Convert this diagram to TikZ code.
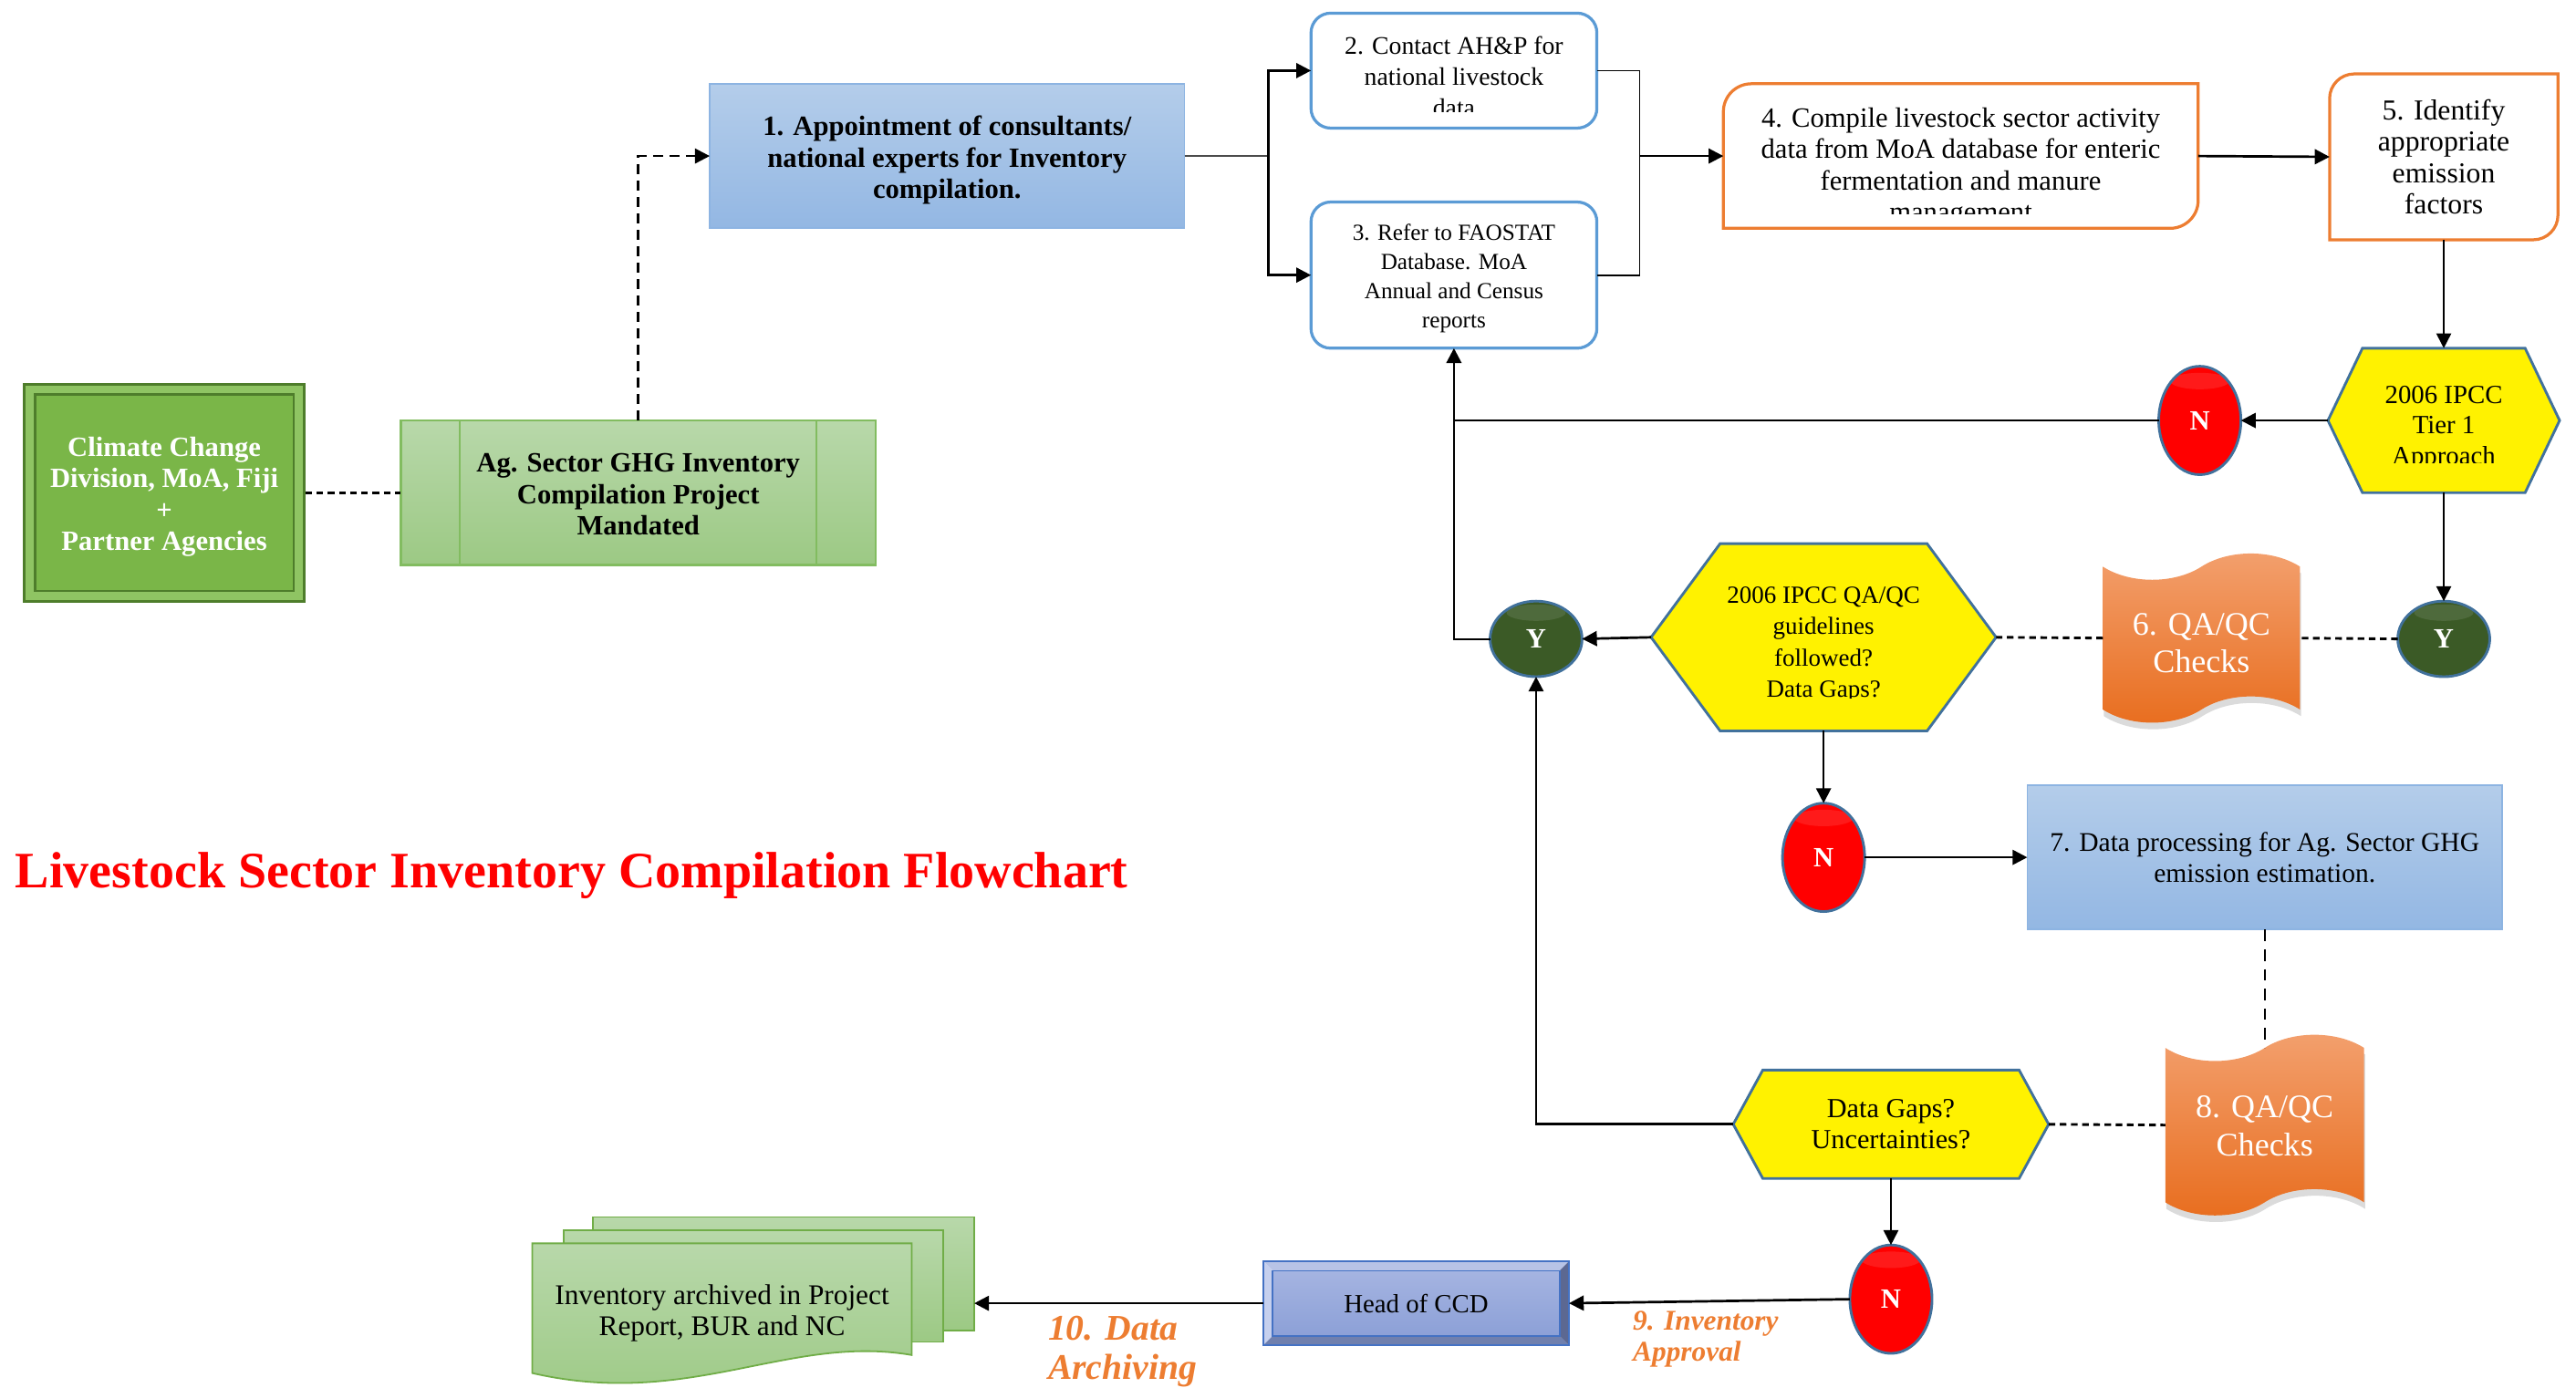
\documentclass[tikz,border=0pt]{standalone}
\usepackage{fontspec}
\setmainfont{Liberation Serif}
\usetikzlibrary{arrows.meta,shapes.geometric,shapes.symbols,shadows}
\pgfdeclarelayer{bg}
\pgfsetlayers{bg,main}

\definecolor{titlered}{HTML}{FF0000}
\definecolor{ccdfill}{HTML}{7AB648}
\definecolor{ccdedge}{HTML}{4E7D2B}
\definecolor{ccdband}{HTML}{8FC463}
\definecolor{agtop}{HTML}{B8D8AA}
\definecolor{agbot}{HTML}{9CC984}
\definecolor{agedge}{HTML}{82BC60}
\definecolor{bluetop}{HTML}{B4CDEA}
\definecolor{bluebot}{HTML}{93B7E3}
\definecolor{blueedge}{HTML}{8DB4E2}
\definecolor{rbedge}{HTML}{5B9BD5}
\definecolor{orangeedge}{HTML}{ED7D31}
\definecolor{hexedge}{HTML}{41719C}
\definecolor{tapetop}{HTML}{F3A06E}
\definecolor{tapebot}{HTML}{E86D1E}
\definecolor{labelorange}{HTML}{ED7D31}
\definecolor{yesgreen}{HTML}{3B5A26}
\definecolor{bevtop}{HTML}{B7C3E6}
\definecolor{bevleft}{HTML}{C6D0EE}
\definecolor{bevbot}{HTML}{7080AE}
\definecolor{bevright}{HTML}{5C6892}
\definecolor{facetop}{HTML}{A5B4E1}
\definecolor{facebot}{HTML}{8CA0D7}
\definecolor{headedge}{HTML}{4472C4}
\definecolor{sheetedge}{HTML}{70AD47}

\newcommand\fsz[2]{\fontsize{#1}{#2}\selectfont}

% yellow decision hexagon around a named node
\newcommand\hexshape[2]{%
  \path[hexfill] (#1.west) -- ([xshift=#2]#1.north west) -- ([xshift=-#2]#1.north east)
    -- (#1.east) -- ([xshift=-#2]#1.south east) -- ([xshift=#2]#1.south west) -- cycle;}
% box with rounded top-left and bottom-right corners
\newcommand\diagbox[2]{%
  \path[fill=white, draw=orangeedge, line width=0.9pt]
    (#1.west) [rounded corners=#2] -- (#1.north west) -- (#1.north)
    [sharp corners] -- (#1.north east) -- (#1.east)
    [rounded corners=#2] -- (#1.south east) -- (#1.south)
    [sharp corners] -- (#1.south west) -- cycle;}

\tikzset{
  every node/.style={inner sep=0pt, outer sep=0pt, align=center},
  sz/.style 2 args={minimum width=#1, minimum height=#2},
  body/.style={font=\fsz{8.5}{9.5}},
  bodyb/.style={font=\bfseries\fsz{8.5}{9.5}},
  bluebox/.style={rectangle, top color=bluetop, bottom color=bluebot, draw=blueedge, line width=0.5pt},
  roundbox/.style={rectangle, rounded corners=6pt, fill=white, draw=rbedge, line width=0.9pt},
  hexfill/.style={fill=yellow, draw=hexedge, line width=0.8pt},
  nobox/.style={rectangle, draw=none},
  gloss/.style={path picture={\fill[white, opacity=0.1]
      ([yshift=-#1]path picture bounding box.north) ellipse [x radius=9pt, y radius=2.5pt];}},
  nodot/.style={ellipse, sz={25pt}{33pt}, fill=red, draw=hexedge, line width=0.8pt, gloss=4.5pt,
    text=white, font=\bfseries\fsz{8.5}{9.5}},
  yesdot/.style={ellipse, sz={28pt}{23pt}, fill=yesgreen, draw=hexedge, line width=0.8pt, gloss=3.5pt,
    text=white, font=\bfseries\fsz{8.5}{9.5}},
  tapebox/.style={tape, tape bend top=in and out, tape bend bottom=in and out,
    tape bend height=8pt, top color=tapetop, bottom color=tapebot, draw=none,
    drop shadow={shadow xshift=0.3pt, shadow yshift=-2pt, opacity=0.14, fill=black}},
  tapetext/.style={text=white, font=\fsz{10}{11.5}},
  sheet/.style={top color=agtop, bottom color=agbot, draw=sheetedge, line width=0.5pt},
  tip/.style={-{Triangle[length=4.5pt,width=4.5pt]}},
  conn/.style={line width=0.75pt, tip},
  thinconn/.style={line width=0.5pt, tip},
  dots/.style={line width=0.8pt, dash pattern=on 2pt off 1.4pt},
  orangelabel/.style={anchor=west, align=left, text=labelorange},
}

\begin{document}
\begin{tikzpicture}[x=0.5pt,y=-0.5pt]
\useasboundingbox (0,0) rectangle (1568,845);

% title
\node[text=titlered, font=\bfseries\fsz{15.55}{18}] (title) at (348,533)
  {Livestock Sector Inventory Compilation Flowchart};

% organisation and mandate
\node[sz={82pt}{63pt}, fill=ccdfill, draw=ccdedge, double=ccdband, double distance=2.4pt,
  line width=0.8pt, outer sep=2pt] (ccd) at (100,300) {};
\node[text=white, bodyb] (ccdt) at (100,302.5)
  {Climate Change\\Division, MoA, Fiji\\+\\Partner Agencies};
\node[sz={144.5pt}{44pt}, top color=agtop, bottom color=agbot, draw=agedge, line width=0.6pt]
  (ag) at (388.5,300) {};
\node[bodyb] (agt) at (388.5,301) {Ag. Sector GHG Inventory\\Compilation Project\\Mandated};
\draw[agedge, line width=0.6pt] ([xshift=18pt]ag.north west) -- ([xshift=18pt]ag.south west)
  ([xshift=-18pt]ag.north east) -- ([xshift=-18pt]ag.south east);

% steps 1-5
\node[sz={144.5pt}{44pt}, bluebox] (b1) at (576.5,95) {};
\node[bodyb] (b1t) at (576.5,97.5)
  {1. Appointment of consultants/\\national experts for Inventory\\compilation.};

\node[sz={87pt}{35pt}, roundbox] (b2) at (885,43) {};
\begin{scope}
  \clip ([shift={(1pt,-1pt)}]b2.north west) rectangle ([shift={(-1pt,5pt)}]b2.south east);
  \node[font=\fsz{7.7}{9.5}] (b2t) at (885,46.5) {2. Contact AH\&P for\\national livestock\\data};
\end{scope}

\node[sz={87pt}{44.5pt}, roundbox] (b3) at (885,167.5) {};
\node[font=\fsz{7}{8.8}] (b3t) at (885,169.5)
  {3. Refer to FAOSTAT\\Database. MoA\\Annual and Census\\reports};

\node[sz={144.5pt}{44pt}, nobox] (b4) at (1193.5,95) {};
\begin{scope}
  \clip ([yshift=-1pt]b4.north west) rectangle ([yshift=4.5pt]b4.south east);
  \node[body] (b4t) at (1193.5,102) {4. Compile livestock sector activity\\data from MoA database for enteric\\fermentation and manure\\management};
\end{scope}

\node[sz={69.5pt}{50.5pt}, nobox, font=\fsz{8.8}{9.5}] (b5) at (1487.5,95.5)
  {5. Identify\\appropriate\\emission\\factors};

% tier 1 decision
\node[sz={70.5pt}{44pt}, nobox] (h1) at (1487.5,256) {};
\begin{scope}
  \clip (h1.north west) rectangle ([yshift=9pt]h1.south east);
  \node[font=\fsz{8}{9.3}] (h1t) at (1487.5,260.5) {2006 IPCC\\Tier 1\\Approach};
\end{scope}
\node[nodot] (n1) at (1339,256) {N};
\node[yesdot] (y2) at (1487.5,389) {Y};

% QA/QC 6 and guideline decision
\node[sz={60pt}{51.5pt}, tapebox] (q6) at (1340,388.5) {};
\node[tapetext] (q6t) at (1340,391.5) {6. QA/QC\\Checks};
\node[sz={105pt}{57pt}, nobox] (h2) at (1110,388) {};
\begin{scope}
  \clip (h2.north west) rectangle ([yshift=10pt]h2.south east);
  \node[font=\fsz{7.5}{9.5}] (h2t) at (1110,392.5) {2006 IPCC QA/QC\\guidelines\\followed?\\Data Gaps?};
\end{scope}
\node[yesdot] (y1) at (935,389) {Y};
\node[nodot] (n2) at (1110,522) {N};

% step 7 and QA/QC 8
\node[sz={144.5pt}{44pt}, bluebox, font=\fsz{8.2}{9.5}] (b7) at (1378.5,522)
  {7. Data processing for Ag. Sector GHG\\emission estimation.};
\node[sz={60.5pt}{55pt}, tapebox] (q8) at (1378.5,685) {};
\node[tapetext] (q8t) at (1378.5,685.5) {8. QA/QC\\Checks};
\node[sz={96pt}{33pt}, nobox, font=\fsz{8.4}{9.5}] (h3) at (1151,684.5) {Data Gaps?\\Uncertainties?};
\node[nodot] (n3) at (1151,791) {N};

% approval and archiving
\node[sz={93pt}{25.5pt}, nobox, font=\fsz{8}{9.5}] (head) at (862,793.5) {Head of CCD};
\node[sz={116pt}{34.5pt}, sheet] (arch3) at (477,775.5) {};
\node[sz={115.5pt}{34pt}, sheet] (arch2) at (458.5,783) {};
\path[sheet] (324,757) -- (555,757) -- (555,825) .. controls (480,812) and (420,858) .. (324,836) -- cycle;
\node[font=\fsz{8.7}{9.5}] (arch) at (439.5,799.5) {Inventory archived in Project\\Report, BUR and NC};

\node[orangelabel, font=\bfseries\itshape\fsz{8.7}{9.5}] (l9) at (994,815.5) {9. Inventory\\Approval};
\node[orangelabel, font=\bfseries\itshape\fsz{11}{12}] (l10) at (638,823) {10. Data\\Archiving};

% shapes behind the texts
\begin{pgfonlayer}{bg}
  \hexshape{h1}{10.5pt}
  \hexshape{h2}{21pt}
  \hexshape{h3}{9pt}
  \diagbox{b4}{8.5pt}
  \diagbox{b5}{7.5pt}
  % bevelled frame of the head of division
  \fill[bevtop] (head.north west) -- (head.north east) -- ([shift={(-2.8pt,-2.8pt)}]head.north east)
    -- ([shift={(2.8pt,-2.8pt)}]head.north west) -- cycle;
  \fill[bevleft] (head.north west) -- ([shift={(2.8pt,-2.8pt)}]head.north west)
    -- ([shift={(2.8pt,2.8pt)}]head.south west) -- (head.south west) -- cycle;
  \fill[bevbot] (head.south west) -- ([shift={(2.8pt,2.8pt)}]head.south west)
    -- ([shift={(-2.8pt,2.8pt)}]head.south east) -- (head.south east) -- cycle;
  \fill[bevright] (head.south east) -- ([shift={(-2.8pt,2.8pt)}]head.south east)
    -- ([shift={(-2.8pt,-2.8pt)}]head.north east) -- (head.north east) -- cycle;
  \path[top color=facetop, bottom color=facebot] ([shift={(2.8pt,-2.8pt)}]head.north west)
    rectangle ([shift={(-2.8pt,2.8pt)}]head.south east);
  \draw[headedge, line width=0.5pt] (head.north west) rectangle (head.south east);
  \draw[headedge, line width=0.4pt] ([shift={(2.8pt,-2.8pt)}]head.north west)
    rectangle ([shift={(-2.8pt,2.8pt)}]head.south east);
\end{pgfonlayer}

% connectors
\coordinate (split) at (772,95);
\coordinate (merge) at (998,95);
\coordinate (join) at (885,256);
\draw[dots] (ccd.east) -- (ag.west);
\draw[line width=0.7pt, dash pattern=on 3pt off 2pt, tip] (ag.north) |- (b1.west);
\draw[line width=0.5pt, black!70] (b1.east) -- (split);
\draw[conn] (split) |- (b2.west);
\draw[conn] (split) |- (b3.west);
\draw[line width=0.5pt] (b2.east) -| (merge);
\draw[line width=0.5pt] (b3.east) -| (merge);
\draw[conn] (merge) -- (b4.west);
\draw[conn] (b4.east) -- (b5.west);
\draw[thinconn] (b5.south) -- (h1.north);
\draw[conn] (h1.west) -- (n1.east);
\draw[conn] (n1.west) -| (b3.south);
\draw[line width=0.5pt] (y1.west) -| (join);
\draw[thinconn] (h1.south) -- (y2.north);
\draw[dots] (y2.west) -- (q6.east);
\draw[dots] (q6.west) -- (h2.east);
\draw[conn] (h2.west) -- (y1.east);
\draw[thinconn] (h2.south) -- (n2.north);
\draw[conn] (n2.east) -- (b7.west);
\draw[line width=0.5pt, dash pattern=on 3.5pt off 2.5pt] (b7.south) -- (q8.north);
\draw[dots] (h3.east) -- (q8.west);
\draw[conn] (h3.west) -| (y1.south);
\draw[thinconn] (h3.south) -- (n3.north);
\draw[conn] (n3.west) -- (head.east);
\draw[conn] (head.west) -- (head.west -| arch3.east);
\end{tikzpicture}
\end{document}
